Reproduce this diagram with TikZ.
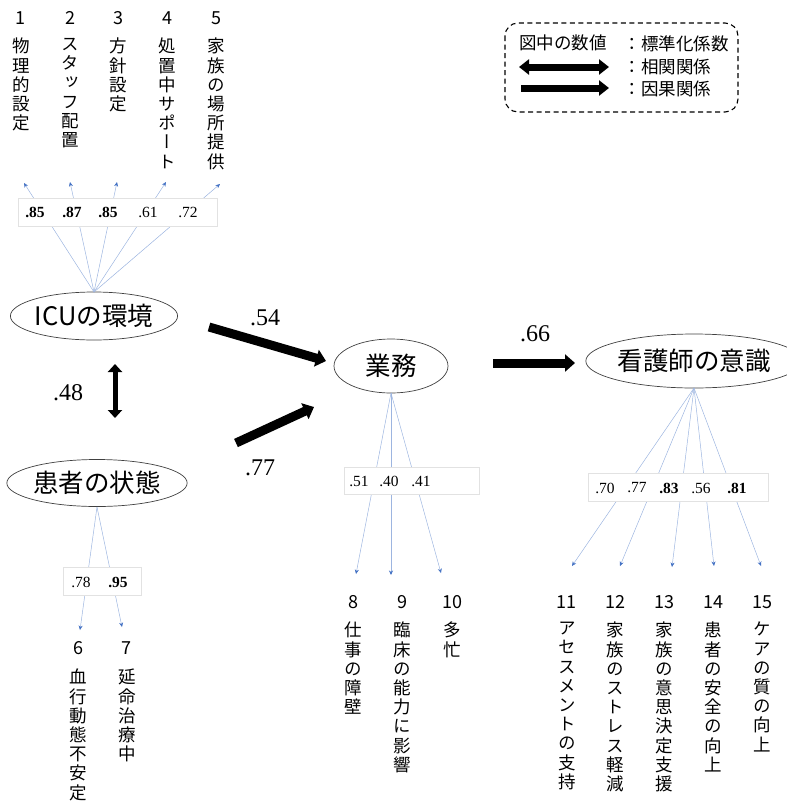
\documentclass[tikz,border=0pt]{standalone}
\usepackage{fontspec}
\setmainfont{Liberation Serif}
\newfontfamily\jp{Noto Sans CJK JP}
\newfontfamily\jpv[RawFeature=+vert]{Noto Sans CJK JP}
\usetikzlibrary{arrows.meta,shapes.geometric}
\definecolor{lnblue}{HTML}{9DB5E0}
\definecolor{tipblue}{HTML}{4472C4}
\definecolor{boxgray}{HTML}{E2E2E2}
\begin{document}
\begin{tikzpicture}[x=1pt,y=-1pt,
  latent/.style={ellipse,draw=black!75,line width=0.7pt,fill=white,inner sep=0pt,font=\jp\fontsize{25.5}{27}\selectfont},
  itemnum/.style={inner sep=0pt,font=\jp\fontsize{18}{20}\selectfont},
  vtxt/.style={anchor=north,inner sep=0pt,align=center,font=\jpv\fontsize{17.5}{19.2}\selectfont},
  load/.style={draw=lnblue,line width=0.5pt,-{Stealth[length=4.5pt,width=4pt,color=tipblue]}},
  coefbox/.style={draw=boxgray,line width=0.4pt,fill=white},
  coef/.style={inner sep=0pt,font=\fontsize{15.5}{17}\selectfont},
  bcoef/.style={inner sep=0pt,font=\bfseries\fontsize{15.5}{17}\selectfont},
  big/.style={inner sep=0pt,font=\fontsize{24}{26}\selectfont},
  causal/.style={line width=9pt,-{Triangle[length=10pt,width=17pt]}},
  corr/.style={line width=5pt,{Triangle[length=8pt,width=14pt]}-{Triangle[length=8pt,width=14pt]}},
  legtxt/.style={inner sep=0pt,font=\jp\fontsize{17.5}{19}\selectfont}]
\useasboundingbox (0,0) rectangle (787,809);

% ---------- latent variables ----------
\node[latent,minimum width=148pt,minimum height=48pt] (icu) at (94,316) {ICUの環境};
\node[latent,minimum width=158pt,minimum height=47pt] (pat) at (97,483) {患者の状態};
\node[latent,minimum width=114pt,minimum height=54pt] (gyo) at (391,366) {業務};
\node[latent,minimum width=190pt,minimum height=54pt] (nur) at (694,361) {看護師の意識};

% ---------- item numbers and texts ----------
\node[itemnum] (n1) at (20,18) {1};
\node[itemnum] (n2) at (70,18) {2};
\node[itemnum] (n3) at (118,18) {3};
\node[itemnum] (n4) at (167,18) {4};
\node[itemnum] (n5) at (216,18) {5};
\node[vtxt] (t1) at (21,38) {物\\理\\的\\設\\定};
\node[vtxt] (t2) at (70,38) {ス\\タ\\ッ\\フ\\配\\置};
\node[vtxt] (t3) at (118,38) {方\\針\\設\\定};
\node[vtxt] (t4) at (167,38) {処\\置\\中\\サ\\ポ\\ー\\ト};
\node[vtxt] (t5) at (216,38) {家\\族\\の\\場\\所\\提\\供};

\node[itemnum] (n6) at (78,648) {6};
\node[itemnum] (n7) at (126,648) {7};
\node[vtxt] (t6) at (78,669) {血\\行\\動\\態\\不\\安\\定};
\node[vtxt] (t7) at (127,669) {延\\命\\治\\療\\中};

\node[itemnum] (n8) at (353,602) {8};
\node[itemnum] (n9) at (402,602) {9};
\node[itemnum] (n10) at (452,602) {10};
\node[vtxt] (t8) at (353,622) {仕\\事\\の\\障\\壁};
\node[vtxt] (t9) at (402,622) {臨\\床\\の\\能\\力\\に\\影\\響};
\node[vtxt] (t10) at (452,622) {多\\忙};

\node[itemnum] (n11) at (566,602) {11};
\node[itemnum] (n12) at (615,602) {12};
\node[itemnum] (n13) at (664,602) {13};
\node[itemnum] (n14) at (713,602) {14};
\node[itemnum] (n15) at (762,602) {15};
\node[vtxt] (t11) at (567,622) {ア\\セ\\ス\\メ\\ン\\ト\\の\\支\\持};
\node[vtxt] (t12) at (615,622) {家\\族\\の\\ス\\ト\\レ\\ス\\軽\\減};
\node[vtxt] (t13) at (664,622) {家\\族\\の\\意\\思\\決\\定\\支\\援};
\node[vtxt] (t14) at (713,622) {患\\者\\の\\安\\全\\の\\向\\上};
\node[vtxt] (t15) at (762,622) {ケ\\ア\\の\\質\\の\\向\\上};

% ---------- arrow end points ----------
\coordinate (icuo) at (94,292);
\coordinate (pato) at (97,507);
\coordinate (gyoo) at (391,393);
\coordinate (nuro) at (694,388);
\coordinate (a1) at (24,183);
\coordinate (a2) at (70,182);
\coordinate (a3) at (117,182);
\coordinate (a4) at (166,182);
\coordinate (a5) at (220,184);
\coordinate (a6) at (80,630);
\coordinate (a7) at (122,627);
\coordinate (a8) at (356,574);
\coordinate (a9) at (391,575);
\coordinate (a10) at (441,573);
\coordinate (a11) at (572,566);
\coordinate (a12) at (620,566);
\coordinate (a13) at (672,567);
\coordinate (a14) at (714,566);
\coordinate (a15) at (761,566);

% ---------- loadings ----------
\foreach \i in {1,...,5} {\draw[load] (icuo) -- (a\i);}
\foreach \i in {6,7} {\draw[load] (pato) -- (a\i);}
\foreach \i in {8,9,10} {\draw[load] (gyoo) -- (a\i);}
\foreach \i in {11,...,15} {\draw[load] (nuro) -- (a\i);}

% ---------- coefficient boxes ----------
\node[coefbox,minimum width=199pt,minimum height=28pt] (b1) at (117.5,212) {};
\node[bcoef] at (35,212) {.85};
\node[bcoef] at (72,212) {.87};
\node[bcoef] at (108,212) {.85};
\node[coef] at (148,212) {.61};
\node[coef] at (188,212) {.72};

\node[coefbox,minimum width=78pt,minimum height=28pt] (b2) at (102,581) {};
\node[coef] at (81,582) {.78};
\node[bcoef] at (118,582) {.95};

\node[coefbox,minimum width=135pt,minimum height=27pt] (b3) at (411.5,481) {};
\node[coef] at (359,481) {.51};
\node[coef] at (389,481) {.40};
\node[coef] at (421,481) {.41};

\node[coefbox,minimum width=180pt,minimum height=28pt] (b4) at (678,487) {};
\node[coef] at (605,488) {.70};
\node[coef] at (637,488) {.77};
\node[bcoef] at (669,488) {.83};
\node[coef] at (701,488) {.56};
\node[bcoef] at (737,488) {.81};

% ---------- structural paths ----------
\coordinate (s1) at (209,327);
\coordinate (e1) at (326,361);
\coordinate (s2) at (236,443);
\coordinate (e2) at (314,407);
\coordinate (s3) at (493,363);
\coordinate (e3) at (575,363);
\coordinate (c1) at (115,364);
\coordinate (c2) at (115,418);
\draw[causal] (s1) -- (e1);
\draw[causal] (s2) -- (e2);
\draw[causal] (s3) -- (e3);
\draw[corr] (c1) -- (c2);
\node[big] (l54) at (265,318) {.54};
\node[big] (l77) at (260,468) {.77};
\node[big] (l66) at (535,334) {.66};
\node[big] (l48) at (68,393) {.48};

% ---------- legend ----------
\draw[dashed,dash pattern=on 5pt off 3.5pt,line width=1.1pt,rounded corners=13pt] (505,23) rectangle (738,112);
\node[legtxt,anchor=west] (lg1) at (519,43) {図中の数値};
\node[legtxt,anchor=east] (lg2) at (729,44) {：標準化係数};
\node[legtxt,anchor=west] (lg3) at (lg2.west |- 0,67) {：相関関係};
\node[legtxt,anchor=west] (lg4) at (lg2.west |- 0,89) {：因果関係};
\coordinate (ld1) at (519,67);
\coordinate (ld2) at (609,67);
\coordinate (ls1) at (521,88);
\coordinate (ls2) at (609,88);
\draw[line width=7pt,{Triangle[length=10pt,width=15pt]}-{Triangle[length=10pt,width=15pt]}] (ld1) -- (ld2);
\draw[line width=7pt,-{Triangle[length=10pt,width=15pt]}] (ls1) -- (ls2);
\end{tikzpicture}
\end{document}
